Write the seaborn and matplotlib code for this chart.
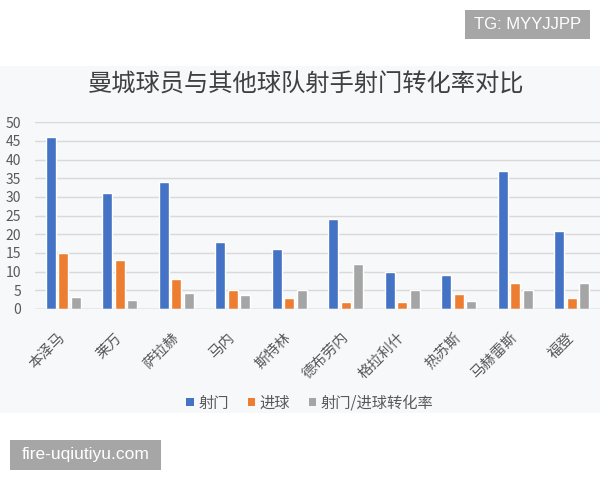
import matplotlib
matplotlib.use("Agg")
import matplotlib.pyplot as plt
from matplotlib.patches import Rectangle, Patch
import seaborn as sns
import pandas as pd

players = ["本泽马", "莱万", "萨拉赫", "马内", "斯特林", "德布劳内", "格拉利什", "热苏斯", "马赫雷斯", "福登"]
shots = [46, 31, 34, 18, 16, 24, 10, 9, 37, 21]
goals = [15, 13, 8, 5, 3, 2, 2, 4, 7, 3]
conversion = [3.1, 2.5, 4.3, 3.7, 5.2, 12, 5, 2.2, 5, 7]
series_names = ["射门", "进球", "射门/进球转化率"]
title_text = "曼城球员与其他球队射手射门转化率对比"
yticks = [0, 5, 10, 15, 20, 25, 30, 35, 40, 45, 50]

sns.set_theme(style="white")
plt.rcParams['font.family'] = ['Noto Sans CJK SC', 'DejaVu Sans']

rows = []
for name, vals in zip(series_names, [shots, goals, conversion]):
    for p, v in zip(players, vals):
        rows.append({"player": p, "series": name, "value": v})
df = pd.DataFrame(rows)

palette = ["#4472C4", "#ED7D31", "#A5A5A5"]

fig = plt.figure(figsize=(6, 4.8), dpi=100)
fig.patch.set_facecolor("white")
# chart background panel
fig.add_artist(Rectangle((0, 1 - 413 / 480), 1, (413 - 66) / 480, transform=fig.transFigure,
                         facecolor="#f7f8fa", edgecolor="none", zorder=0))

ax = fig.add_axes([35 / 600, 1 - 309 / 480, 565 / 600, (309 - 122.3) / 480])
ax.set_facecolor("none")
sns.barplot(data=df, x="player", y="value", hue="series", palette=palette,
            width=0.66, gap=0.18, ax=ax, legend=False, saturation=1)

ax.set_ylim(0, 50)
ax.set_xlim(-0.5, 9.5)
ax.set_yticks(yticks)
ax.set_xlabel("")
ax.set_ylabel("")
for s in ax.spines.values():
    s.set_visible(False)
ax.yaxis.grid(True, color="#d9d9d9", linewidth=1)
ax.set_axisbelow(True)
ax.axhline(0, color="#c8c8c8", linewidth=1, zorder=1)
ax.tick_params(axis="y", labelsize=10, colors="#595959", pad=10, length=0)
ax.tick_params(axis="x", labelsize=10.5, colors="#595959", pad=19, length=0)
for lab in ax.get_xticklabels():
    lab.set_rotation(45)
    lab.set_ha("right")
    lab.set_va("center")
    lab.set_rotation_mode("anchor")

fig.text(306 / 600, 1 - 85 / 480, title_text, ha="center", va="center",
         fontsize=17.5, color="#404040")

handles = [Patch(facecolor=c, edgecolor="none") for c in palette]
fig.legend(handles, series_names, loc="center", bbox_to_anchor=(310 / 600, 1 - 403 / 480),
           ncol=3, frameon=False, fontsize=11, handlelength=0.5, handleheight=0.5,
           handletextpad=0.3, columnspacing=1.2, labelcolor="#595959")

# watermark boxes
fig.add_artist(Rectangle((465 / 600, 1 - 39 / 480), 125 / 600, 29 / 480, transform=fig.transFigure,
                         facecolor="#a6a6a6", edgecolor="none", zorder=5))
fig.text(527.5 / 600, 1 - 24.5 / 480, "TG: MYYJJPP", ha="center", va="center",
         fontsize=12, color="white", family="Liberation Sans", zorder=6)
fig.add_artist(Rectangle((10 / 600, 1 - 470 / 480), 151 / 600, 30 / 480, transform=fig.transFigure,
                         facecolor="#a6a6a6", edgecolor="none", zorder=5))
fig.text(85.5 / 600, 1 - 455 / 480, "fire-uqiutiyu.com", ha="center", va="center",
         fontsize=12.5, color="white", family="Liberation Sans", zorder=6)

fig.savefig("out.png", dpi=100)
